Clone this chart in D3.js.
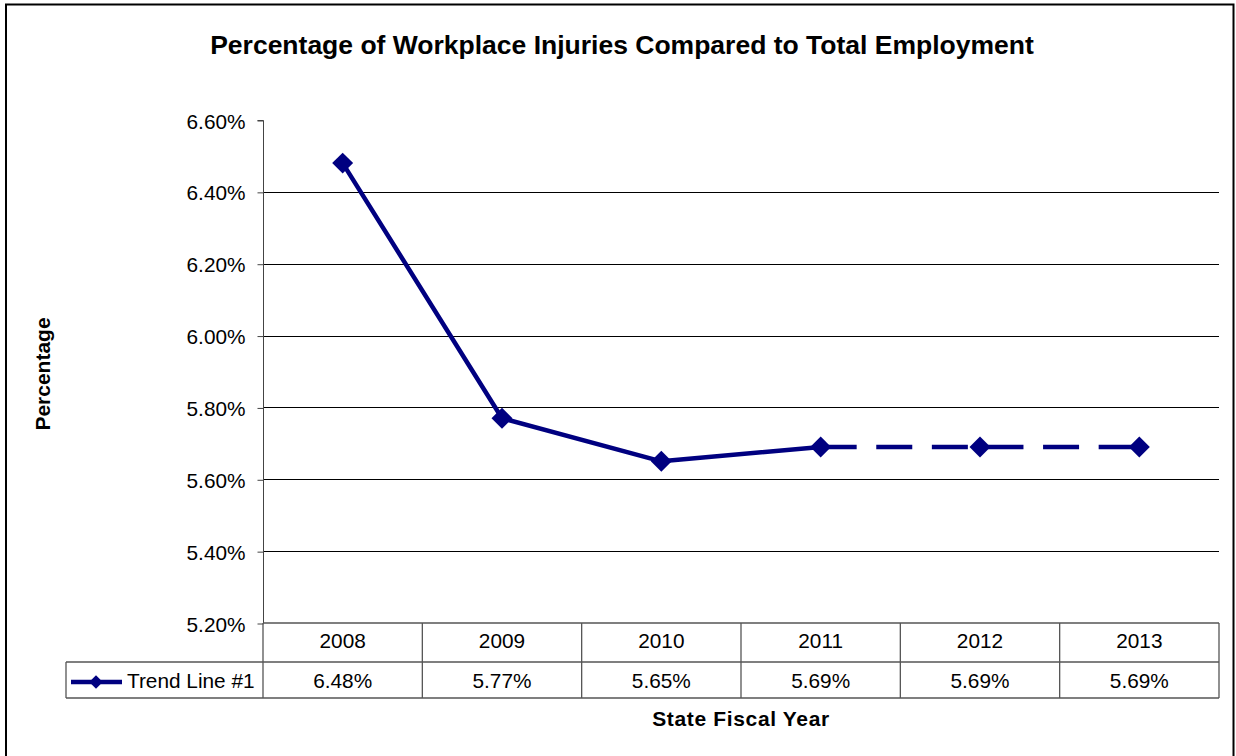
<!DOCTYPE html>
<html><head><meta charset="utf-8">
<script src="https://cdn.jsdelivr.net/npm/d3@7"></script>
<style>body{margin:0;background:#fff;} text{font-family:"Liberation Sans",Arial,sans-serif;}</style>
</head><body>
<svg id="c" width="1236" height="756"></svg>
<script>
const categories = ["2008","2009","2010","2011","2012","2013"];
const values = [6.48, 5.77, 5.65, 5.69, 5.69, 5.69];
const valueLabels = ["6.48%","5.77%","5.65%","5.69%","5.69%","5.69%"];
const yTicks = [5.2, 5.4, 5.6, 5.8, 6.0, 6.2, 6.4, 6.6];
const dashedFrom = 3; // projected segment starts at 2011
const seriesName = "Trend Line #1";

const svg = d3.select("#c");
const L = 263, R = 1219, T = 120, B = 623;
const row1 = 662, row2 = 698;
const navy = "#000080";
const fs = 20.8;

svg.append("rect").attr("x",6).attr("y",4.5).attr("width",1227.5).attr("height",800)
  .attr("fill","none").attr("stroke","#000").attr("stroke-width",2);

const x = d3.scaleBand().domain(categories).range([L,R]);
const y = d3.scaleLinear().domain([5.2,6.6]).range([B,T]);

// gridlines
svg.append("g").selectAll("line").data(yTicks.filter(t=>t>5.21 && t<6.59)).join("line")
  .attr("x1",L).attr("x2",R).attr("y1",d=>Math.round(y(d))+0.5).attr("y2",d=>Math.round(y(d))+0.5)
  .attr("stroke","#000").attr("stroke-width",1);

// y axis
const yAxis = d3.axisLeft(y).tickValues(yTicks).tickSize(6).tickPadding(12)
  .tickFormat(d=>d3.format(".2f")(d)+"%");
const gy = svg.append("g").attr("transform",`translate(${L+0.5},0.5)`).call(yAxis);
gy.select(".domain").attr("stroke","#444").attr("d",`M-6,${T}H0V${B}`);
gy.selectAll(".tick line").attr("stroke","#444");
gy.selectAll(".tick text").attr("font-size",fs).attr("fill","#000")
  .attr("font-family","'Liberation Sans',Arial,sans-serif").attr("dy","0.36em");

// data table
const tg = svg.append("g").attr("stroke","#555").attr("stroke-width",1.3).attr("fill","none");
tg.append("line").attr("x1",L).attr("x2",R).attr("y1",B).attr("y2",B);
tg.append("line").attr("x1",66).attr("x2",R).attr("y1",row1).attr("y2",row1);
tg.append("line").attr("x1",66).attr("x2",R).attr("y1",row2).attr("y2",row2);
tg.append("line").attr("x1",66).attr("x2",66).attr("y1",row1).attr("y2",row2);
tg.selectAll(".v").data(categories.map(c=>x(c)).concat([R])).join("line")
  .attr("x1",d=>d).attr("x2",d=>d).attr("y1",B).attr("y2",row2);

svg.append("g").selectAll("text").data(categories).join("text")
  .attr("x",d=>x(d)+x.bandwidth()/2).attr("y",648).attr("text-anchor","middle")
  .attr("font-size",fs).text(d=>d);
svg.append("g").selectAll("text").data(valueLabels).join("text")
  .attr("x",(d,i)=>x(categories[i])+x.bandwidth()/2).attr("y",688).attr("text-anchor","middle")
  .attr("font-size",fs).text(d=>d);

// legend in table
svg.append("line").attr("x1",71).attr("x2",122).attr("y1",682).attr("y2",682)
  .attr("stroke",navy).attr("stroke-width",4.5);
svg.append("path").attr("d",d3.symbol(d3.symbolSquare,90)())
  .attr("transform","translate(96,682) rotate(45)").attr("fill",navy);
svg.append("text").attr("x",127).attr("y",688).attr("font-size",fs).text(seriesName);

// line
const pts = categories.map((c,i)=>[x(c)+x.bandwidth()/2, y(values[i])]);
const line = d3.line();
svg.append("path").attr("d",line(pts.slice(0,dashedFrom+1))).attr("fill","none")
  .attr("stroke",navy).attr("stroke-width",4.5).attr("stroke-linejoin","round");
svg.append("path").attr("d",line(pts.slice(dashedFrom))).attr("fill","none")
  .attr("stroke",navy).attr("stroke-width",4.5).attr("stroke-dasharray","36,19.6");
svg.append("g").selectAll("path").data(pts).join("path")
  .attr("d",d3.symbol(d3.symbolSquare,220)())
  .attr("transform",d=>`translate(${d[0]},${d[1]}) rotate(45)`).attr("fill",navy);

// titles
svg.append("text").attr("x",622).attr("y",54).attr("text-anchor","middle")
  .attr("font-size",26.5).attr("font-weight","bold").text("Percentage of Workplace Injuries Compared to Total Employment");
svg.append("text").attr("transform","translate(50,374) rotate(-90)").attr("text-anchor","middle")
  .attr("font-size",21).attr("font-weight","bold").text("Percentage");
svg.append("text").attr("x",741).attr("y",726).attr("text-anchor","middle")
  .attr("font-size",21).attr("font-weight","bold").attr("letter-spacing",0.65).text("State Fiscal Year");
</script>
</body></html>
